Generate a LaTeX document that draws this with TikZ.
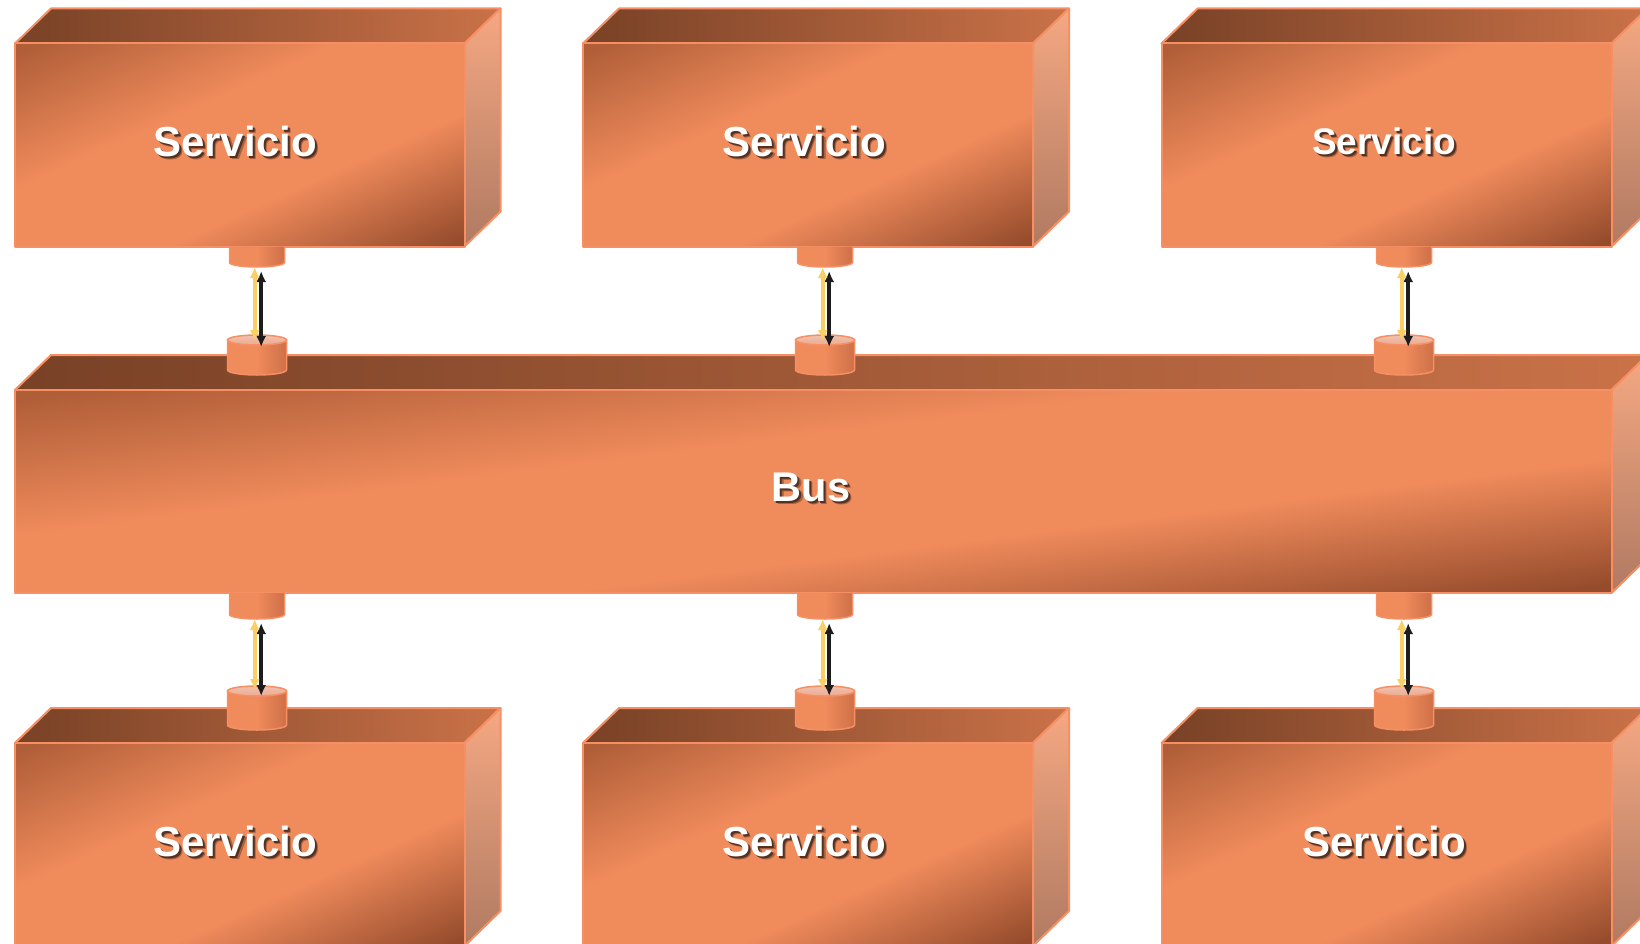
\documentclass[tikz,border=0pt]{standalone}
\usepackage{fontspec}
\setmainfont{Liberation Sans}
\usetikzlibrary{arrows.meta}
\definecolor{fo}{RGB}{240,139,92}
\definecolor{fd1}{RGB}{176,94,56}
\definecolor{fd2}{RGB}{150,76,44}
\definecolor{td1}{RGB}{120,65,38}
\definecolor{td2}{RGB}{202,114,72}
\definecolor{sd1}{RGB}{245,168,130}
\definecolor{sd2}{RGB}{176,122,98}
\definecolor{edgec}{RGB}{246,144,100}
\definecolor{cylr}{RGB}{206,112,72}
\definecolor{cylt}{RGB}{236,178,156}
\definecolor{yel}{RGB}{250,208,100}
\definecolor{blk}{RGB}{28,28,28}
\colorlet{shdA}{fo!35!black}
\colorlet{shdB}{fo!70!black}
\pgfdeclareverticalshading{frontsh}{100bp}{color(0bp)=(fd2); color(16bp)=(fd2); color(38bp)=(fo); color(60bp)=(fo); color(84bp)=(fd1); color(100bp)=(fd1)}
\tikzset{
  frontface/.style={shading=frontsh, shading angle=45},
  topface/.style={left color=td1, right color=td2},
  sideface/.style={top color=sd1, bottom color=sd2},
  outl/.style={draw=edgec, line width=2pt, line join=round},
  cylbody/.style={left color=fo, right color=cylr, middle color=fo, draw=edgec, line width=1.5pt},
  cyltop/.style={top color=cylt!80!white, bottom color=cylt!80!fo, draw=edgec, line width=1.5pt},
  yarr/.style={draw=yel, line width=4.2pt, {Latex[length=11pt,width=10pt]}-{Latex[length=11pt,width=10pt]}},
  barr/.style={draw=blk, line width=4.2pt, {Latex[length=11pt,width=10pt]}-{Latex[length=11pt,width=10pt]}},
  lbl/.style={text=white, inner sep=0pt, anchor=base},
}
% #1 left, #2 front top, #3 width, #4 height
\newcommand\dbox[4]{%
  \path[topface,outl] (#1,#2) -- (#1+36,#2-35) -- (#1+#3+36,#2-35) -- (#1+#3,#2) -- cycle;
  \path[sideface,outl] (#1+#3,#2) -- (#1+#3+36,#2-35) -- (#1+#3+36,#2+#4-35) -- (#1+#3,#2+#4) -- cycle;
  \path[frontface, transform canvas={shift={(#1,#2)}, xscale=#3/100, yscale=#4/100}] (0,0) rectangle (100,100);
  \path[outl] (#1,#2) rectangle (#1+#3,#2+#4);
}
% hanging cylinder: #1 centre x, #2 top y, #3 bottom ellipse y
\newcommand\hcyl[3]{%
  \path[cylbody] (#1-27.5,#2) -- (#1-27.5,#3) arc[start angle=180,end angle=360,x radius=27.5pt,y radius=4.5pt] -- (#1+27.5,#2);
}
% standing cylinder: #1 centre x, #2 top ellipse y, #3 bottom ellipse y
\newcommand\scyl[3]{%
  \path[cylbody] (#1-29.5,#2) -- (#1-29.5,#3) arc[start angle=180,end angle=360,x radius=29.5pt,y radius=5pt] -- (#1+29.5,#2) -- cycle;
  \path[cyltop] (#1,#2) ellipse[x radius=29.5pt,y radius=5pt];
}
\newcommand\lab[5]{% #1 name, #2 x, #3 baseline y, #4 size, #5 text
  \node[lbl,font=\bfseries\fontsize{#4}{#4}\selectfont] (#1) at (#2,#3)
    {\rlap{\kern3.2pt\raisebox{-3.2pt}{\color{shdB}#5}}\rlap{\kern2pt\raisebox{-2pt}{\color{shdA}#5}}#5};
}
\begin{document}
\begin{tikzpicture}[x=1pt,y=-1pt]
\useasboundingbox (0,0) rectangle (1640,944);
\fill[white] (0,0) rectangle (1640,944);
\clip (0,0) rectangle (1640,944);
% top services
\dbox{15}{43.5}{449.5}{203}
\dbox{583}{43.5}{450}{203}
\dbox{1161.5}{43.5}{450}{203}
\hcyl{257}{246.5}{262.5}
\hcyl{825}{246.5}{262.5}
\hcyl{1404}{246.5}{262.5}
% bus
\dbox{15}{390}{1596.5}{203}
\scyl{257}{340}{370}
\scyl{825}{340}{370}
\scyl{1404}{340}{370}
\hcyl{257}{593}{614.5}
\hcyl{825}{593}{614.5}
\hcyl{1404}{593}{614.5}
% bottom services
\dbox{15}{743}{449.5}{203}
\dbox{583}{743}{450}{203}
\dbox{1161.5}{743}{450}{203}
\scyl{257}{691}{725}
\scyl{825}{691}{725}
\scyl{1404}{691}{725}
% connector end points
\foreach \n/\c in {1/257,2/825,3/1404}{
  \coordinate (ya\n) at (\c-2.3,267);
  \coordinate (yb\n) at (\c-2.3,341);
  \coordinate (ba\n) at (\c+4.2,271);
  \coordinate (bb\n) at (\c+4.2,347);
  \coordinate (yc\n) at (\c-2.3,619);
  \coordinate (yd\n) at (\c-2.3,690);
  \coordinate (bc\n) at (\c+4.2,623);
  \coordinate (bd\n) at (\c+4.2,696);
}
\foreach \n in {1,2,3}{
  \draw[barr] (ba\n) -- (bb\n);
  \draw[yarr] (ya\n) -- (yb\n);
  \draw[barr] (bc\n) -- (bd\n);
  \draw[yarr] (yc\n) -- (yd\n);
}
% labels
\lab{s1}{235}{156.7}{42}{Servicio}
\lab{s2}{804.5}{156.7}{42}{Servicio}
\lab{s3}{1384}{154.5}{37}{Servicio}
\lab{bus}{811}{501.7}{41.5}{Bus}
\lab{s4}{235}{856.2}{42}{Servicio}
\lab{s5}{804.5}{856.2}{42}{Servicio}
\lab{s6}{1384}{856.2}{42}{Servicio}
\end{tikzpicture}
\end{document}
